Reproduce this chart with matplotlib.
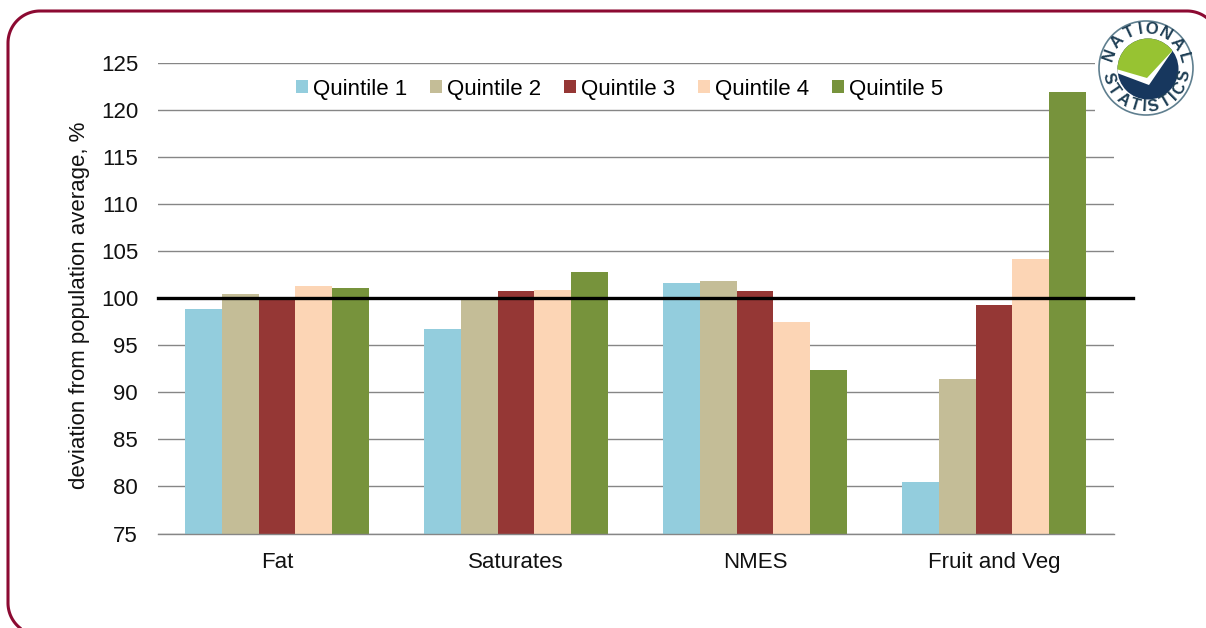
import numpy as np
import matplotlib
matplotlib.use("Agg")
import matplotlib.pyplot as plt
from matplotlib.patches import Circle, Polygon, Rectangle

plt.rcParams["font.family"] = ["Liberation Sans", "DejaVu Sans"]

categories = ["Fat", "Saturates", "NMES", "Fruit and Veg"]
quintile_names = ["Quintile 1", "Quintile 2", "Quintile 3", "Quintile 4", "Quintile 5"]
quintile_1 = [98.9, 96.7, 101.6, 80.5]
quintile_2 = [100.5, 100.0, 101.85, 91.4]
quintile_3 = [100.0, 100.8, 100.8, 99.3]
quintile_4 = [101.3, 100.9, 97.5, 104.2]
quintile_5 = [101.1, 102.8, 92.4, 121.9]
y_ticks = [75, 80, 85, 90, 95, 100, 105, 110, 115, 120, 125]
reference_level = 100

colors = ["#93CDDD", "#C4BD97", "#953735", "#FCD5B5", "#77933C"]
W, H = 1206, 628

fig = plt.figure(figsize=(W / 100, H / 100), dpi=100)
ax = fig.add_axes([157.5 / W, 1 - 533.5 / H, (1113.5 - 157.5) / W, (533.5 - 63) / H])

x = np.arange(len(categories))
bar_width = 0.154
series = [quintile_1, quintile_2, quintile_3, quintile_4, quintile_5]
for i, values in enumerate(series):
    ax.bar(x + (i - 2) * bar_width, values, bar_width, bottom=0, color=colors[i],
           label=quintile_names[i], zorder=2)

ax.set_xlim(-0.5, 3.5)
ax.set_ylim(75, 125)
ax.set_yticks(y_ticks)
ax.set_xticks(x, categories)
ax.tick_params(axis="both", length=0, labelsize=16, labelcolor="#111111")
ax.tick_params(axis="x", pad=13)
ax.tick_params(axis="y", pad=14)
ax.grid(axis="y", color="#868686", linewidth=1.0, zorder=1)
ax.set_axisbelow(True)
for side in ["top", "left", "right"]:
    ax.spines[side].set_visible(False)
ax.spines["bottom"].set_color("#868686")
ax.spines["bottom"].set_linewidth(1.0)
ax.set_ylabel("deviation from population average, %", fontsize=16, color="#111111", labelpad=8, y=0.484)

# the 100 line runs past the right end of the axes
ax.plot([0, 1.0205], [reference_level, reference_level], color="black", linewidth=2.4,
        transform=ax.get_yaxis_transform(), clip_on=False, zorder=4)

ax.legend(ncol=5, loc="center", bbox_to_anchor=(619.5 / W, 1 - 89 / H),
          bbox_transform=fig.transFigure, frameon=False, fontsize=16,
          handlelength=0.54, handleheight=0.54, handletextpad=0.23, columnspacing=1.02,
          borderpad=0, borderaxespad=0)

# overlay in pixel coordinates for the rounded frame and the logo
over = fig.add_axes([0, 0, 1, 1], zorder=5)
over.set_xlim(0, W)
over.set_ylim(H, 0)
over.axis("off")
over.patch.set_alpha(0)


def arc(px, py, r, a0, a1):
    t = np.radians(np.linspace(a0, a1, 30))
    return px + r * np.cos(t), py - r * np.sin(t)


# frame runs off the canvas at the bottom and the right
radius = 32
left, top, right, bottom = 8, 11, 1219, 635
bl_x, bl_y = arc(left + radius, bottom - radius, radius, 231, 180)
tl_x, tl_y = arc(left + radius, top + radius, radius, 180, 90)
tr_x, tr_y = arc(right - radius, top + radius, radius, 90, 35)
over.plot(np.r_[bl_x, tl_x, tr_x], np.r_[bl_y, tl_y, tr_y], color="#8C0A32", linewidth=2.2, zorder=12)

# logo sits on its own white square
over.add_patch(Rectangle((1095, 15), 111, 103, facecolor="white", edgecolor="none", zorder=5))
cx, cy = 1146, 68
navy = "#17375E"
over.add_patch(Circle((cx, cy), 47, facecolor="white", edgecolor="#5F7F8F", linewidth=1.2, zorder=6))
inner = Circle((cx + 2, cy + 1), 30.5, facecolor=navy, edgecolor="none", zorder=7)
over.add_patch(inner)
green = Polygon([[cx - 32, cy + 2], [cx + 2, cy + 12], [cx + 26, cy - 16], [cx + 26, cy - 40], [cx - 40, cy - 40]],
                closed=True, facecolor="#97C332", edgecolor="none", zorder=8)
over.add_patch(green)
green.set_clip_path(inner)
check = Polygon([[cx - 30, cy + 1], [cx + 1, cy + 10], [cx + 27, cy - 18], [cx + 3, cy + 17], [cx - 29, cy + 5]],
                closed=True, facecolor="white", edgecolor="none", zorder=9)
over.add_patch(check)
check.set_clip_path(inner)


def ring_text(word, start, stop, top):
    # letters share the arc by rough width, so the I does not leave a gap
    widths = np.array([0.45 if ch == "I" else 1.0 for ch in word])
    centers = np.cumsum(widths) - widths / 2
    angles = start + (stop - start) * (centers - centers[0]) / (centers[-1] - centers[0])
    for ch, a in zip(word, angles):
        r = 39
        px = cx + r * np.cos(np.radians(a))
        py = cy - r * np.sin(np.radians(a))
        rot = a - 90 if top else a + 90
        over.text(px, py, ch, ha="center", va="center", rotation=rot, rotation_mode="anchor",
                  fontsize=12, fontweight="bold", color="#1F3F55", zorder=11)


ring_text("NATIONAL", 160, 15, True)
ring_text("STATISTICS", 195, 348, False)

fig.savefig("out.png", dpi=100)
